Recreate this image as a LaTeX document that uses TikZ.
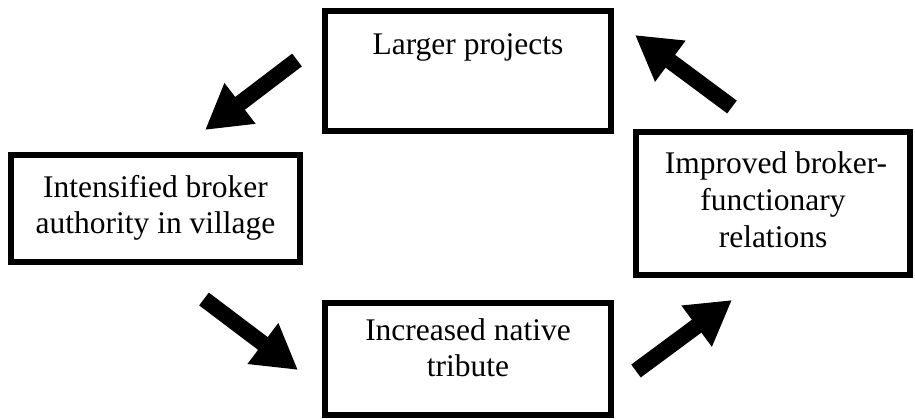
\documentclass[tikz,border=0pt]{standalone}
\usepackage{fontspec}
\setmainfont{Liberation Serif}
\usetikzlibrary{arrows.meta}
\tikzset{
  box/.style={draw=black, line width=6.5pt, fill=white},
  lbl/.style={font=\fontsize{31.5pt}{36pt}\selectfont, inner sep=0pt, anchor=base},
  flow/.style={line width=16pt, draw=black, -{Triangle[length=44pt, width=48pt]}}
}
\begin{document}
\begin{tikzpicture}[x=1pt, y=-1pt]
\useasboundingbox (0,0) rectangle (915,418);
% boxes
\draw[box] (325,11) rectangle (611,131) coordinate (topbox);
\draw[box] (11,155) rectangle (300,262) coordinate (leftbox);
\draw[box] (636,132) rectangle (910,275) coordinate (rightbox);
\draw[box] (325,303) rectangle (611,415) coordinate (botbox);
% texts
\node[lbl] (t1) at (468,54) {Larger projects};
\node[lbl] (t2a) at (155.5,197) {Intensified broker};
\node[lbl] (t2b) at (155.5,233) {authority in village};
\node[lbl] (t3a) at (776,173) {Improved broker-};
\node[lbl] (t3b) at (773,210) {functionary};
\node[lbl] (t3c) at (773,247) {relations};
\node[lbl] (t4a) at (468,340) {Increased native};
\node[lbl] (t4b) at (468,376) {tribute};
% arrows
\coordinate (a1s) at (297,60);  \coordinate (a1e) at (205,130);
\coordinate (a2s) at (732,107); \coordinate (a2e) at (635,35);
\coordinate (a3s) at (204,299); \coordinate (a3e) at (298,370);
\coordinate (a4s) at (636,371); \coordinate (a4e) at (732,300);
\draw[flow] (a1s) -- (a1e);
\draw[flow] (a2s) -- (a2e);
\draw[flow] (a3s) -- (a3e);
\draw[flow] (a4s) -- (a4e);
\end{tikzpicture}
\end{document}
